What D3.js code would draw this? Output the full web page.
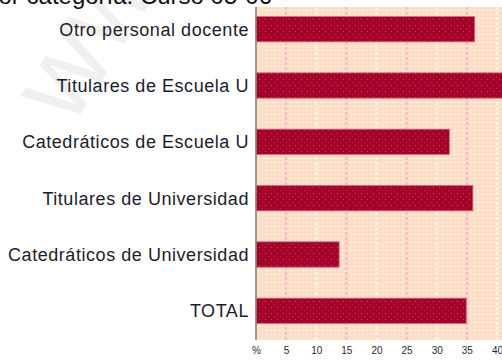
<!DOCTYPE html>
<html>
<head>
<meta charset="utf-8">
<script src="https://cdn.jsdelivr.net/npm/d3@7"></script>
<style>
  html, body { margin: 0; padding: 0; background: #fff; }
  svg { display: block; }
</style>
</head>
<body>
<svg id="chart" width="502" height="361"></svg>
<script>
// Categories, top to bottom
const categories = [
  "Otro personal docente",
  "Titulares de Escuela U",
  "Catedráticos de Escuela U",
  "Titulares de Universidad",
  "Catedráticos de Universidad",
  "TOTAL"
];
// Percentage per category
const values = [36.3, 41.5, 32.1, 36.0, 13.8, 34.9];
// Axis ticks and their labels
const tickValues = [0, 5, 10, 15, 20, 25, 30, 35, 40];
const tickLabels = ["%", "5", "10", "15", "20", "25", "30", "35", "40"];
const titleText = "por categoría. Curso 05-06";

const svg = d3.select("#chart");
const defs = svg.append("defs");

// Dotted peach background texture
const bgPat = defs.append("pattern").attr("id", "bgDots")
  .attr("width", 4).attr("height", 4).attr("patternUnits", "userSpaceOnUse");
bgPat.append("rect").attr("width", 4).attr("height", 4).attr("fill", "#fde0ca");
bgPat.append("rect").attr("x", 0).attr("y", 0).attr("width", 1).attr("height", 1).attr("fill", "#fbcbc0");
bgPat.append("rect").attr("x", 2).attr("y", 2).attr("width", 1).attr("height", 1).attr("fill", "#fff0e0");

// Dotted crimson bar texture
const barPat = defs.append("pattern").attr("id", "barDots")
  .attr("width", 6).attr("height", 6).attr("patternUnits", "userSpaceOnUse");
barPat.append("rect").attr("width", 6).attr("height", 6).attr("fill", "#a3002c");
barPat.append("rect").attr("x", 1).attr("y", 1).attr("width", 1).attr("height", 1).attr("fill", "#d24a3a");
barPat.append("rect").attr("x", 4).attr("y", 4).attr("width", 1).attr("height", 1).attr("fill", "#c02a38");

const plotTop = 7, plotBottom = 340;
const x = d3.scaleLinear().domain([0, 40]).range([256, 497]);
const y = d3.scaleBand().domain(categories).range([1, 339]).paddingInner(0.55).paddingOuter(0.275);

// Faint watermark
svg.append("text")
  .attr("transform", "translate(72,128) rotate(-58)")
  .attr("font-family", "Liberation Sans, Arial, sans-serif")
  .attr("font-size", 115)
  .attr("fill", "#f0f0f0")
  .text("ww");

// Title, partially cut by the top edge
svg.append("text")
  .attr("x", 272).attr("y", 4)
  .attr("text-anchor", "end")
  .attr("font-family", "Liberation Sans, Arial, sans-serif")
  .attr("font-size", 24)
  .attr("fill", "#111")
  .text(titleText);

// Plot background
svg.append("rect")
  .attr("x", x(0)).attr("y", plotTop)
  .attr("width", 502 - x(0)).attr("height", plotBottom - plotTop)
  .attr("fill", "url(#bgDots)");

// Grid lines: alternate pink / pale
svg.append("g").selectAll("line")
  .data(tickValues.filter(d => d > 0))
  .join("line")
  .attr("x1", d => x(d)).attr("x2", d => x(d))
  .attr("y1", plotTop).attr("y2", plotBottom)
  .attr("stroke", (d, i) => i % 2 === 0 ? "#ffaac0" : "#fffbe8")
  .attr("stroke-width", 1.6)
  .attr("stroke-dasharray", "3,2");

// Bars
svg.append("g").selectAll("rect")
  .data(categories.map((c, i) => ({ c, v: values[i] })))
  .join("rect")
  .attr("x", x(0))
  .attr("y", d => y(d.c))
  .attr("width", d => x(d.v) - x(0))
  .attr("height", y.bandwidth())
  .attr("fill", "url(#barDots)")
  .attr("stroke", "#d86a80")
  .attr("stroke-width", 0.8);

// Vertical axis line
svg.append("line")
  .attr("x1", x(0)).attr("x2", x(0))
  .attr("y1", plotTop).attr("y2", plotBottom)
  .attr("stroke", "#8a8078").attr("stroke-width", 1.6);

// Category labels
svg.append("g").selectAll("text")
  .data(categories)
  .join("text")
  .attr("x", 249)
  .attr("y", d => y(d) + y.bandwidth() / 2)
  .attr("dy", "0.36em")
  .attr("text-anchor", "end")
  .attr("font-family", "Liberation Sans, Arial, sans-serif")
  .attr("font-size", 18)
  .attr("letter-spacing", 0.55)
  .attr("fill", "#1c1c2c")
  .text(d => d);

// Tick labels, narrow
const xAxis = d3.axisBottom(x).tickValues(tickValues)
  .tickFormat((d, i) => tickLabels[i]).tickSize(0).tickPadding(0);
const ax = svg.append("g").attr("transform", `translate(0,${plotBottom + 7})`).call(xAxis);
ax.select(".domain").remove();
ax.selectAll("text")
  .attr("font-family", "Liberation Sans Narrow, Liberation Sans, Arial, sans-serif")
  .attr("font-size", 10)
  .attr("fill", "#2a2a3a")
  .attr("dy", "0.71em");
</script>
</body>
</html>
